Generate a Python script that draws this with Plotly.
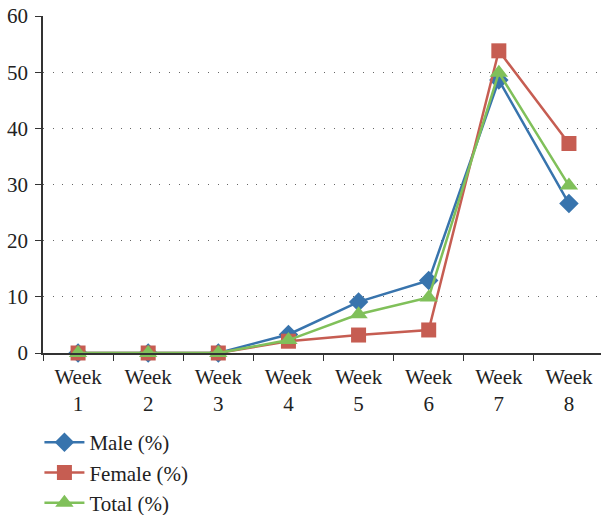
import plotly.graph_objects as go

weeks = ["Week<br>1", "Week<br>2", "Week<br>3", "Week<br>4", "Week<br>5", "Week<br>6", "Week<br>7", "Week<br>8"]
male = [0, 0, 0, 3.3, 9.1, 12.9, 48.6, 26.6]
female = [0, 0, 0, 2.1, 3.2, 4.1, 53.8, 37.3]
total = [0, 0, 0, 2.3, 6.9, 9.9, 49.9, 29.8]

FONT = "Liberation Serif"
TXT = "#222222"

fig = go.Figure()
fig.add_trace(go.Scatter(x=weeks, y=male, name="Male (%)", mode="lines+markers", cliponaxis=False,
                         line=dict(color="#3874AD", width=2.5),
                         marker=dict(symbol="diamond", size=15, color="#3874AD")))
fig.add_trace(go.Scatter(x=weeks, y=female, name="Female (%)", mode="lines+markers", cliponaxis=False,
                         line=dict(color="#C65D52", width=2.5),
                         marker=dict(symbol="square", size=15, color="#C65D52")))
fig.add_trace(go.Scatter(x=weeks, y=total, name="Total (%)", mode="lines+markers", cliponaxis=False,
                         line=dict(color="#80C05A", width=2.5),
                         marker=dict(symbol="triangle-up", size=16, color="#80C05A")))

fig.update_layout(
    width=601, height=515,
    margin=dict(l=43, r=0, t=16, b=162, autoexpand=False),
    plot_bgcolor="white", paper_bgcolor="white",
    font=dict(family=FONT, size=21, color=TXT),
    showlegend=True,
    legend=dict(orientation="v", xref="container", yref="container",
                x=0.0656, xanchor="left", y=0.1806, yanchor="top",
                font=dict(family=FONT, size=21, color=TXT),
                tracegroupgap=0, itemwidth=40, bgcolor="rgba(0,0,0,0)"),
    xaxis=dict(type="category", range=[-0.5, 7.457], automargin=False,
               showline=True, linecolor="#333333", linewidth=1.5,
               ticks="outside", tickson="boundaries", ticklen=6, tickcolor="#333333",
               ticklabelstandoff=4,
               showgrid=False, zeroline=False,
               tickfont=dict(family=FONT, size=21, color=TXT)),
    yaxis=dict(range=[0, 60], dtick=10, automargin=False,
               showline=True, linecolor="#333333", linewidth=1.5,
               ticks="outside", ticklen=6, tickcolor="#333333",
               ticklabelstandoff=3,
               showgrid=True, gridcolor="#666666", griddash="1px,8.7px", gridwidth=1.2,
               zeroline=False,
               tickfont=dict(family=FONT, size=21, color=TXT)),
)

post = ("document.documentElement.style.margin='0';"
        "document.body.style.margin='0';"
        "document.body.style.overflow='hidden';"
        "var d=document.getElementById('{plot_id}');"
        "d.style.position='fixed';d.style.left='0px';d.style.top='0px';")

fig.write_html("out.html", config={"displayModeBar": False}, post_script=post)
